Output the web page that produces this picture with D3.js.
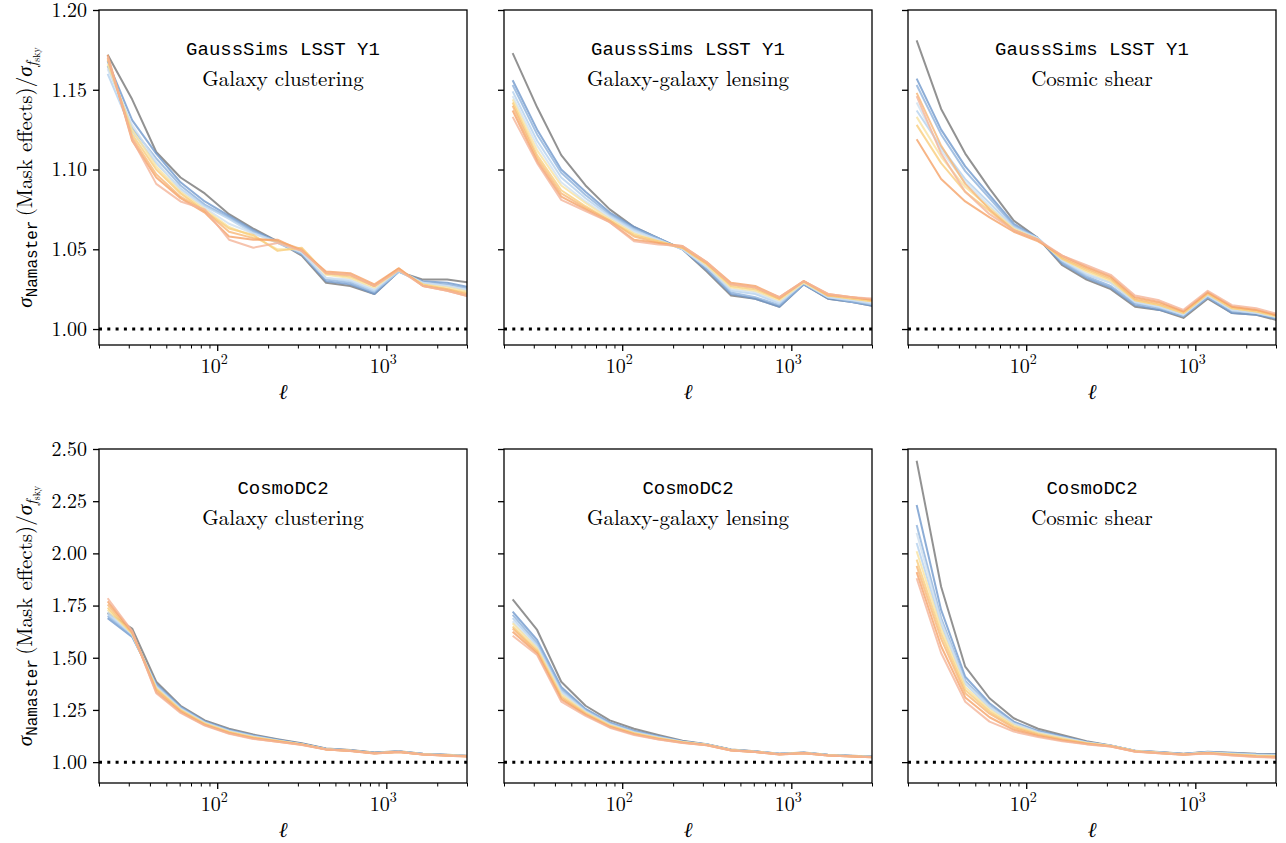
<!DOCTYPE html>
<html>
<head>
<meta charset="utf-8">
<script src="https://cdn.jsdelivr.net/npm/d3@7"></script>
<style>
  body { margin: 0; background: #fff; }
  svg { display: block; }
</style>
</head>
<body>
<svg id="svg"></svg>
<script>

const width = 1286;
const height = 843;

// multipole bin centres
const ell = [22.5, 31.4, 43.6, 60.7, 84.4, 117.5, 163.4, 227.4, 316.2, 440, 612, 851, 1184, 1648, 2291, 3189];

// gray first, then blue -> orange
const lineColors = ["#8c8c8c", "#7198cc", "#8db2dc", "#b4d1ee", "#cfe0ef", "#f7e2a0", "#f9cd7c", "#f8b775", "#f5a268", "#f4b498"];

const sampleNames = ["GaussSims LSST Y1", "CosmoDC2"];
const probeNames = ["Galaxy clustering", "Galaxy-galaxy lensing", "Cosmic shear"];

const yTicksTop = [1.00, 1.05, 1.10, 1.15, 1.20];
const yTicksBottom = [1.00, 1.25, 1.50, 1.75, 2.00, 2.25, 2.50];

// GaussSims, galaxy clustering
const gaussClustering = [
  [1.172,1.144,1.111,1.095,1.085,1.072,1.063,1.055,1.046,1.029,1.027,1.022,1.036,1.031,1.031,1.029],
  [1.168,1.131,1.110,1.092,1.080,1.071,1.062,1.055,1.047,1.030,1.028,1.022,1.036,1.030,1.029,1.026],
  [1.165,1.126,1.107,1.090,1.078,1.070,1.061,1.054,1.047,1.031,1.029,1.023,1.036,1.029,1.028,1.025],
  [1.160,1.124,1.104,1.088,1.077,1.069,1.060,1.055,1.048,1.032,1.030,1.024,1.036,1.029,1.027,1.024],
  [1.163,1.128,1.105,1.087,1.076,1.066,1.060,1.054,1.048,1.032,1.031,1.025,1.037,1.029,1.027,1.024],
  [1.166,1.125,1.102,1.086,1.075,1.064,1.058,1.050,1.050,1.034,1.032,1.026,1.037,1.028,1.026,1.023],
  [1.169,1.122,1.100,1.085,1.074,1.063,1.059,1.049,1.051,1.035,1.033,1.027,1.037,1.028,1.025,1.022],
  [1.170,1.120,1.097,1.083,1.074,1.061,1.057,1.055,1.050,1.035,1.034,1.027,1.038,1.027,1.025,1.021],
  [1.172,1.118,1.095,1.082,1.073,1.058,1.056,1.056,1.049,1.036,1.035,1.028,1.038,1.027,1.024,1.020],
  [1.171,1.119,1.091,1.080,1.075,1.056,1.051,1.054,1.049,1.035,1.034,1.027,1.037,1.027,1.024,1.020]
];

// GaussSims, galaxy-galaxy lensing
const gaussGGL = [
  [1.173,1.139,1.109,1.090,1.075,1.064,1.057,1.050,1.036,1.021,1.019,1.014,1.028,1.019,1.017,1.014],
  [1.156,1.125,1.100,1.086,1.073,1.064,1.057,1.050,1.037,1.022,1.019,1.014,1.028,1.019,1.017,1.014],
  [1.153,1.122,1.098,1.084,1.072,1.063,1.057,1.050,1.038,1.023,1.020,1.015,1.028,1.020,1.017,1.015],
  [1.149,1.118,1.095,1.082,1.071,1.062,1.056,1.050,1.039,1.024,1.022,1.016,1.029,1.020,1.018,1.015],
  [1.146,1.115,1.092,1.080,1.070,1.061,1.056,1.050,1.039,1.025,1.023,1.017,1.029,1.020,1.018,1.016],
  [1.144,1.112,1.090,1.079,1.069,1.060,1.055,1.051,1.040,1.026,1.024,1.018,1.029,1.021,1.019,1.017],
  [1.142,1.109,1.087,1.077,1.068,1.059,1.055,1.051,1.041,1.027,1.025,1.019,1.030,1.021,1.019,1.017],
  [1.140,1.107,1.085,1.076,1.068,1.058,1.054,1.051,1.041,1.028,1.026,1.019,1.030,1.021,1.020,1.018],
  [1.137,1.105,1.083,1.075,1.067,1.056,1.054,1.052,1.042,1.029,1.027,1.020,1.030,1.022,1.020,1.018],
  [1.133,1.104,1.081,1.074,1.067,1.055,1.053,1.052,1.042,1.028,1.026,1.020,1.030,1.022,1.020,1.019]
];

// GaussSims, cosmic shear
const gaussShear = [
  [1.181,1.138,1.110,1.088,1.068,1.057,1.040,1.031,1.025,1.014,1.012,1.007,1.019,1.010,1.009,1.005],
  [1.157,1.125,1.102,1.084,1.066,1.057,1.041,1.032,1.026,1.015,1.012,1.008,1.020,1.010,1.009,1.006],
  [1.153,1.122,1.099,1.082,1.065,1.057,1.042,1.033,1.027,1.016,1.013,1.008,1.020,1.011,1.010,1.006],
  [1.137,1.114,1.094,1.079,1.064,1.057,1.043,1.034,1.029,1.017,1.014,1.009,1.021,1.012,1.010,1.007],
  [1.142,1.112,1.092,1.077,1.063,1.057,1.043,1.035,1.029,1.017,1.014,1.009,1.021,1.012,1.010,1.007],
  [1.133,1.108,1.089,1.076,1.063,1.056,1.044,1.036,1.030,1.018,1.015,1.010,1.022,1.013,1.011,1.007],
  [1.128,1.104,1.086,1.074,1.062,1.056,1.044,1.037,1.031,1.018,1.015,1.010,1.022,1.013,1.011,1.008],
  [1.148,1.115,1.091,1.075,1.062,1.056,1.045,1.038,1.032,1.019,1.016,1.011,1.023,1.014,1.012,1.008],
  [1.119,1.094,1.080,1.070,1.061,1.055,1.046,1.039,1.033,1.020,1.017,1.011,1.023,1.014,1.012,1.008],
  [1.146,1.110,1.086,1.072,1.062,1.056,1.046,1.040,1.034,1.021,1.018,1.012,1.024,1.015,1.013,1.009]
];

// CosmoDC2, galaxy clustering
const dc2Clustering = [
  [1.715,1.640,1.385,1.270,1.200,1.160,1.132,1.110,1.090,1.065,1.058,1.046,1.052,1.040,1.035,1.030],
  [1.690,1.600,1.375,1.265,1.195,1.155,1.128,1.107,1.088,1.064,1.057,1.045,1.051,1.039,1.034,1.029],
  [1.700,1.605,1.370,1.262,1.192,1.152,1.126,1.105,1.087,1.063,1.056,1.044,1.051,1.039,1.034,1.029],
  [1.710,1.610,1.365,1.258,1.190,1.150,1.124,1.104,1.086,1.063,1.056,1.044,1.050,1.038,1.033,1.028],
  [1.720,1.612,1.360,1.255,1.188,1.148,1.122,1.103,1.086,1.062,1.055,1.043,1.050,1.038,1.033,1.028],
  [1.730,1.615,1.355,1.252,1.186,1.146,1.120,1.102,1.085,1.062,1.055,1.043,1.050,1.038,1.033,1.028],
  [1.740,1.618,1.350,1.248,1.183,1.143,1.118,1.101,1.084,1.061,1.054,1.042,1.049,1.037,1.032,1.027],
  [1.755,1.622,1.345,1.245,1.180,1.141,1.116,1.100,1.084,1.061,1.054,1.042,1.049,1.037,1.032,1.027],
  [1.770,1.625,1.335,1.240,1.177,1.138,1.113,1.098,1.083,1.060,1.053,1.041,1.048,1.036,1.031,1.026],
  [1.785,1.628,1.330,1.236,1.175,1.136,1.111,1.097,1.082,1.060,1.053,1.041,1.048,1.036,1.031,1.026]
];

// CosmoDC2, galaxy-galaxy lensing
const dc2GGL = [
  [1.780,1.633,1.385,1.270,1.200,1.160,1.130,1.102,1.086,1.060,1.052,1.040,1.046,1.035,1.030,1.026],
  [1.721,1.585,1.360,1.255,1.190,1.150,1.124,1.100,1.085,1.059,1.051,1.040,1.045,1.034,1.029,1.025],
  [1.705,1.570,1.350,1.250,1.186,1.147,1.122,1.099,1.084,1.059,1.051,1.039,1.045,1.034,1.029,1.025],
  [1.690,1.560,1.340,1.246,1.183,1.145,1.120,1.098,1.084,1.058,1.050,1.039,1.045,1.034,1.029,1.025],
  [1.675,1.550,1.332,1.242,1.180,1.142,1.118,1.097,1.083,1.058,1.050,1.039,1.044,1.033,1.028,1.024],
  [1.665,1.545,1.325,1.238,1.177,1.140,1.116,1.096,1.083,1.058,1.050,1.038,1.044,1.033,1.028,1.024],
  [1.650,1.535,1.315,1.234,1.174,1.138,1.114,1.095,1.082,1.057,1.049,1.038,1.044,1.033,1.028,1.024],
  [1.640,1.528,1.308,1.230,1.171,1.135,1.112,1.094,1.082,1.057,1.049,1.038,1.043,1.032,1.027,1.023],
  [1.625,1.520,1.300,1.226,1.168,1.133,1.110,1.093,1.081,1.056,1.048,1.037,1.043,1.032,1.027,1.023],
  [1.605,1.513,1.290,1.222,1.165,1.130,1.108,1.092,1.081,1.056,1.048,1.037,1.043,1.032,1.027,1.023]
];

// CosmoDC2, cosmic shear
const dc2Shear = [
  [2.444,1.840,1.457,1.306,1.210,1.160,1.130,1.100,1.080,1.055,1.048,1.040,1.050,1.045,1.040,1.038],
  [2.232,1.729,1.409,1.282,1.194,1.150,1.124,1.097,1.079,1.055,1.047,1.039,1.049,1.043,1.038,1.036],
  [2.136,1.690,1.390,1.270,1.188,1.146,1.120,1.095,1.079,1.054,1.047,1.039,1.048,1.042,1.037,1.035],
  [2.050,1.660,1.375,1.262,1.183,1.142,1.117,1.094,1.078,1.054,1.046,1.038,1.047,1.041,1.036,1.034],
  [2.098,1.675,1.380,1.265,1.185,1.143,1.118,1.094,1.078,1.053,1.046,1.038,1.046,1.039,1.034,1.031],
  [2.010,1.640,1.360,1.252,1.177,1.138,1.114,1.092,1.077,1.053,1.045,1.037,1.045,1.038,1.032,1.029],
  [1.970,1.615,1.345,1.242,1.170,1.134,1.110,1.090,1.077,1.052,1.044,1.036,1.044,1.036,1.030,1.027],
  [1.940,1.590,1.330,1.232,1.164,1.130,1.107,1.089,1.076,1.051,1.044,1.036,1.043,1.035,1.028,1.025],
  [1.910,1.555,1.310,1.215,1.155,1.125,1.104,1.087,1.075,1.051,1.043,1.035,1.042,1.033,1.026,1.022],
  [1.881,1.523,1.289,1.194,1.146,1.120,1.100,1.085,1.075,1.050,1.042,1.035,1.041,1.032,1.025,1.020]
];

const rows = [
  { top: 10, bottom: 345, domain: [0.99, 1.2], ticks: yTicksTop, fmt: d3.format(".2f"),
    sets: [gaussClustering, gaussGGL, gaussShear] },
  { top: 449, bottom: 783, domain: [0.9, 2.5], ticks: yTicksBottom, fmt: d3.format(".2f"),
    sets: [dc2Clustering, dc2GGL, dc2Shear] }
];
const colLefts = [99, 504, 908];
const panelW = 368;

const serif = "'Latin Modern Roman', 'CMU Serif', 'Liberation Serif', serif";
const mono = "'Liberation Mono', 'DejaVu Sans Mono', monospace";

const svg = d3.select("#svg")
  .attr("width", width)
  .attr("height", height)
  .attr("viewBox", `0 0 ${width} ${height}`);

const minorTicks = [20,30,40,50,60,70,80,90,200,300,400,500,600,700,800,900,2000,3000];

rows.forEach(function(row, ri) {
  const y = d3.scaleLinear().domain(row.domain).range([row.bottom, row.top]);

  row.sets.forEach(function(series, ci) {
    const left = colLefts[ci];
    const x = d3.scaleLog().domain([20, 3000]).range([left, left + panelW]);

    const g = svg.append("g");
    const clipId = `clip-${ri}-${ci}`;
    svg.append("clipPath").attr("id", clipId)
      .append("rect")
        .attr("x", left).attr("y", row.top)
        .attr("width", panelW).attr("height", row.bottom - row.top);

    const plot = g.append("g").attr("clip-path", `url(#${clipId})`);

    const line = d3.line()
      .x((d, i) => x(ell[i]))
      .y(d => y(d));

    plot.selectAll("path.curve")
      .data(series)
      .enter().append("path")
        .attr("class", "curve")
        .attr("d", line)
        .attr("fill", "none")
        .attr("stroke", (d, i) => lineColors[i])
        .attr("stroke-opacity", (d, i) => i === 0 ? 0.95 : 0.8)
        .attr("stroke-width", 2)
        .attr("stroke-linejoin", "round");

    // reference line at 1
    plot.append("line")
      .attr("x1", x(20)).attr("x2", x(3000))
      .attr("y1", y(1)).attr("y2", y(1))
      .attr("stroke", "#000")
      .attr("stroke-width", 3)
      .attr("stroke-dasharray", "3,5.3");

    // x axis
    const xAxis = d3.axisBottom(x)
      .tickValues([100, 1000])
      .tickSize(6)
      .tickFormat("");
    const xg = g.append("g")
      .attr("transform", `translate(0,${row.bottom})`)
      .call(xAxis);
    xg.select(".domain").remove();
    xg.selectAll(".tick line").attr("stroke-width", 1.3);

    const xMinor = d3.axisBottom(x).tickValues(minorTicks).tickSize(3.5).tickFormat("");
    const xm = g.append("g")
      .attr("transform", `translate(0,${row.bottom})`)
      .call(xMinor);
    xm.select(".domain").remove();
    xm.selectAll(".tick line").attr("stroke-width", 1);

    [100, 1000].forEach(function(v, k) {
      const t = g.append("text")
        .attr("x", x(v) - 3)
        .attr("y", row.bottom + 28)
        .attr("text-anchor", "middle")
        .attr("font-family", serif)
        .attr("font-size", 20)
        .text("10");
      t.append("tspan")
        .attr("dy", -9)
        .attr("font-size", 14)
        .text(k === 0 ? "2" : "3");
    });

    g.append("text")
      .attr("x", left + panelW / 2)
      .attr("y", row.bottom + 54)
      .attr("text-anchor", "middle")
      .attr("font-family", serif)
      .attr("font-style", "italic")
      .attr("font-size", 21)
      .text("\u2113");

    // y axis
    const yAxis = d3.axisLeft(y)
      .tickValues(row.ticks)
      .tickSize(6)
      .tickPadding(6)
      .tickFormat(ci === 0 ? row.fmt : "");
    const yg = g.append("g")
      .attr("transform", `translate(${left},0)`)
      .call(yAxis);
    yg.select(".domain").remove();
    yg.selectAll(".tick line").attr("stroke-width", 1.3);
    yg.selectAll(".tick text")
      .attr("font-family", serif)
      .attr("font-size", 20)
      .attr("fill", "#000");

    // frame
    g.append("rect")
      .attr("x", left).attr("y", row.top)
      .attr("width", panelW).attr("height", row.bottom - row.top)
      .attr("fill", "none")
      .attr("stroke", "#000")
      .attr("stroke-width", 1.3);

    // titles
    g.append("text")
      .attr("x", left + panelW / 2)
      .attr("y", row.top + 45)
      .attr("text-anchor", "middle")
      .attr("font-family", mono)
      .attr("font-size", 19)
      .text(sampleNames[ri]);
    g.append("text")
      .attr("x", left + panelW / 2)
      .attr("y", row.top + 76)
      .attr("text-anchor", "middle")
      .attr("font-family", serif)
      .attr("font-size", 21)
      .text(probeNames[ci]);
  });

  // y label
  const cy = (row.top + row.bottom) / 2;
  const lab = svg.append("text")
    .attr("transform", `translate(32,${cy}) rotate(-90)`)
    .attr("text-anchor", "middle")
    .attr("font-family", serif)
    .attr("font-size", 21);
  lab.append("tspan").attr("font-style", "italic").text("\u03c3");
  lab.append("tspan").attr("font-family", mono).attr("font-size", 16).attr("dy", 5).text("Namaster");
  lab.append("tspan").attr("dy", -5).text("\u2009(Mask effects)/");
  lab.append("tspan").attr("font-style", "italic").text("\u03c3");
  lab.append("tspan").attr("font-style", "italic").attr("font-size", 15).attr("dy", 5).text("f");
  lab.append("tspan").attr("font-size", 10).attr("dy", 3).text("sky");
});

</script>
</body>
</html>
